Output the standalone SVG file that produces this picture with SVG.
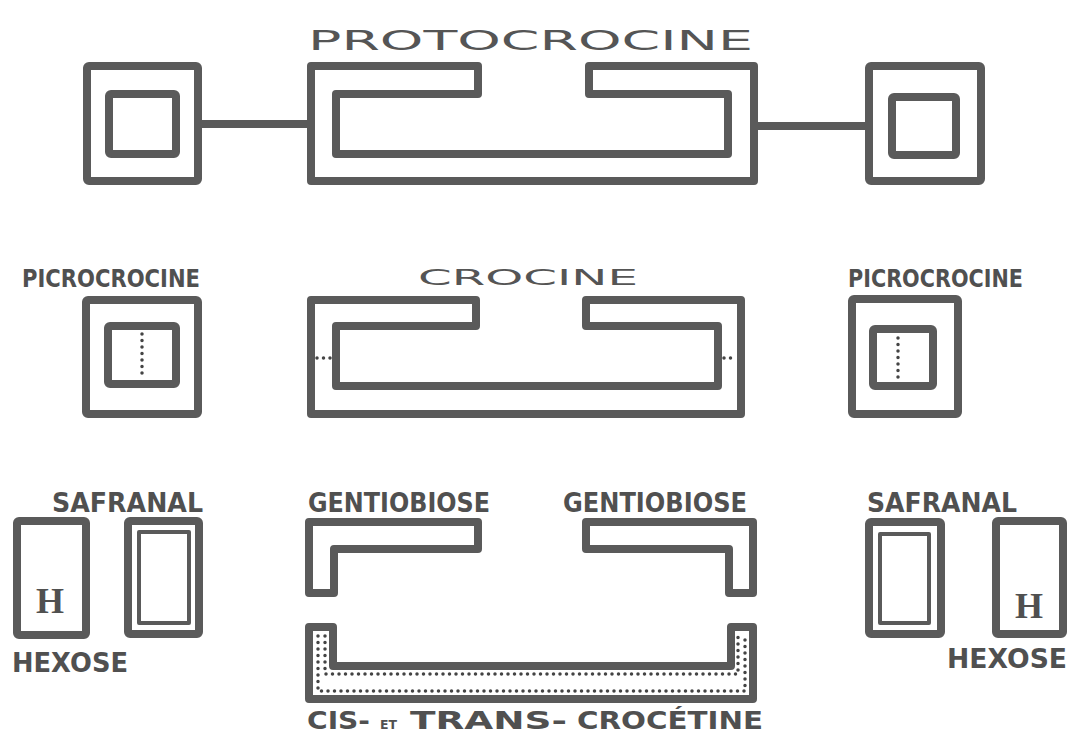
<svg xmlns="http://www.w3.org/2000/svg" width="1070" height="736" viewBox="0 0 1070 736">
<style>
.s{fill:none;stroke:#5a5a5a;stroke-width:8;stroke-linejoin:round;stroke-linecap:round}
.t{fill:none;stroke:#5a5a5a;stroke-width:4;stroke-linejoin:round}
.d{fill:none;stroke:#444;stroke-width:3.5;stroke-linecap:round;stroke-dasharray:0 6.5}
.lab{font-family:"DejaVu Sans",sans-serif;font-weight:bold;fill:#505050}
.big{font-family:"DejaVu Sans",sans-serif;font-weight:normal;fill:#555}
.h{font-family:"Liberation Serif",serif;font-weight:bold;fill:#505050;text-anchor:middle}
</style>
<rect width="1070" height="736" fill="#fff"/>

<g id="connectors">
<line class="s" x1="202" y1="124" x2="307" y2="124"/>
<line class="s" x1="758" y1="126" x2="865" y2="126"/>
</g>

<g id="protocrocine">
<text class="big" x="308" y="50" font-size="27" textLength="445" lengthAdjust="spacingAndGlyphs">PROTOCROCINE</text>
<path class="s" d="M311,66 H478 V94 H336 V154 H728 V94 H589 V66 H754 V181 H311 Z"/>
</g>
<g id="top-left-sugar">
<rect class="s" x="87" y="66" width="111" height="115" rx="2"/>
<rect class="s" x="109" y="94" width="67" height="60" rx="2"/>
</g>
<g id="top-right-sugar">
<rect class="s" x="869" y="66" width="112" height="115" rx="2"/>
<rect class="s" x="892" y="97" width="64" height="58" rx="2"/>
</g>

<g id="picrocrocine-left">
<text class="lab" x="22" y="287" font-size="25" textLength="178" lengthAdjust="spacingAndGlyphs">PICROCROCINE</text>
<rect class="s" x="86" y="300" width="112" height="114" rx="2"/>
<rect class="s" x="108" y="326" width="68" height="58" rx="2"/>
<line class="d" x1="142" y1="334" x2="142" y2="378"/>
</g>
<g id="crocine">
<text class="big" x="418" y="285" font-size="21" textLength="220" lengthAdjust="spacingAndGlyphs">CROCINE</text>
<path class="s" d="M311,300 H476 V326 H336 V386 H718 V326 H586 V300 H741 V414 H311 Z"/>
<line class="d" x1="317" y1="358" x2="331" y2="358"/>
<line class="d" x1="724" y1="358" x2="737" y2="358"/>
</g>
<g id="picrocrocine-right">
<text class="lab" x="848" y="287" font-size="25" textLength="175" lengthAdjust="spacingAndGlyphs">PICROCROCINE</text>
<rect class="s" x="852" y="299" width="106" height="115" rx="2"/>
<rect class="s" x="873" y="329" width="60" height="57" rx="2"/>
<line class="d" x1="898" y1="338" x2="898" y2="378"/>
</g>

<g id="hexose-left">
<rect class="s" x="17" y="521" width="69" height="114" rx="2"/>
<text class="h" x="50" y="613" font-size="36">H</text>
<text class="lab" x="12" y="672" font-size="26" textLength="116" lengthAdjust="spacingAndGlyphs">HEXOSE</text>
</g>
<g id="safranal-left">
<text class="lab" x="52" y="512" font-size="26" textLength="151" lengthAdjust="spacingAndGlyphs">SAFRANAL</text>
<rect class="s" x="128" y="521" width="71" height="113" rx="2"/>
<rect class="t" x="139" y="532" width="50" height="91"/>
</g>
<g id="gentiobiose-left">
<text class="lab" x="308" y="512" font-size="26" textLength="182" lengthAdjust="spacingAndGlyphs">GENTIOBIOSE</text>
<path class="s" d="M309,522 H478 V549 H334 V593 H309 Z"/>
</g>
<g id="gentiobiose-right">
<text class="lab" x="563" y="512" font-size="26" textLength="184" lengthAdjust="spacingAndGlyphs">GENTIOBIOSE</text>
<path class="s" d="M586,522 H753 V593 H729 V549 H586 Z"/>
</g>
<g id="crocetine">
<path class="s" d="M309,627 H333 V666 H731 V627 H753 V699 H309 Z"/>
<path class="d" d="M318,636 V691 H745 V636"/>
<path class="d" d="M325,636 V674 H738 V636"/>
<text class="lab" x="307" y="729" font-size="24" textLength="63" lengthAdjust="spacingAndGlyphs">CIS-</text>
<text class="lab" x="380" y="729" font-size="12" textLength="17" lengthAdjust="spacingAndGlyphs">ET</text>
<text class="lab" x="410" y="729" font-size="24" textLength="157" lengthAdjust="spacingAndGlyphs">TRANS-</text>
<text class="lab" x="577" y="729" font-size="24" textLength="186" lengthAdjust="spacingAndGlyphs">CROCÉTINE</text>
</g>
<g id="safranal-right">
<text class="lab" x="867" y="512" font-size="26" textLength="150" lengthAdjust="spacingAndGlyphs">SAFRANAL</text>
<rect class="s" x="869" y="522" width="72" height="112" rx="2"/>
<rect class="t" x="880" y="534" width="49" height="89"/>
</g>
<g id="hexose-right">
<rect class="s" x="996" y="521" width="67" height="113" rx="2"/>
<text class="h" x="1029" y="618" font-size="36">H</text>
<text class="lab" x="947" y="668" font-size="26" textLength="120" lengthAdjust="spacingAndGlyphs">HEXOSE</text>
</g>
</svg>
